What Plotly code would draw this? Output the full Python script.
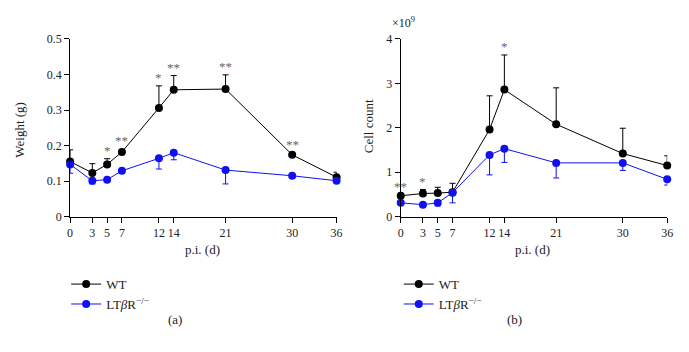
import plotly.graph_objects as go

# ---------------- data ----------------
days = [0, 3, 5, 7, 12, 14, 21, 30, 36]
tick_vals_x = [0, 3, 5, 7, 12, 14, 21, 30, 36]

# (a) spleen weight (g)
wt_weight = [0.155, 0.123, 0.147, 0.182, 0.306, 0.357, 0.359, 0.174, 0.111]
wt_weight_err = [0.033, 0.026, 0.016, 0.007, 0.062, 0.040, 0.040, 0.004, 0.014]
lt_weight = [0.147, 0.101, 0.104, 0.129, 0.164, 0.180, 0.131, 0.115, 0.101]
lt_weight_err = [0.025, 0.009, 0.004, 0.007, 0.030, 0.020, 0.039, 0.003, 0.005]
sig_weight = ["", "", "*", "**", "*", "**", "**", "**", ""]

# (b) cell count (x 10^9)
wt_cells = [0.47, 0.52, 0.53, 0.55, 1.96, 2.86, 2.08, 1.42, 1.15]
wt_cells_err = [0.02, 0.09, 0.13, 0.20, 0.76, 0.78, 0.82, 0.57, 0.22]
lt_cells = [0.31, 0.27, 0.31, 0.54, 1.39, 1.53, 1.21, 1.21, 0.84]
lt_cells_err = [0.03, 0.03, 0.07, 0.23, 0.45, 0.31, 0.34, 0.17, 0.13]
sig_cells = ["**", "*", "", "", "", "*", "", "", ""]

weight_ticks = [0, 0.1, 0.2, 0.3, 0.4, 0.5]
weight_ticklabels = ["0", "0.1", "0.2", "0.3", "0.4", "0.5"]
cell_ticks = [0, 1, 2, 3, 4]

series_names = ["WT", "LT<i>β</i>R<sup>−/−</sup>"]

# ---------------- style ----------------
W, H = 689, 352
FONT = "Liberation Serif"
BLACK = "#000000"
BLUE = "#1010f0"
TXT = "#222222"
GRAY = "#666666"


def px_x(p):
    return p / W


def px_y(p):
    return 1 - p / H


fig = go.Figure()


def add_panel(xa, ya, legend, wt, wt_err, lt, lt_err, sig):
    n = len(days)
    fig.add_trace(go.Scatter(
        x=days, y=wt, mode="lines+markers", name=series_names[0],
        xaxis=xa, yaxis=ya, legend=legend, cliponaxis=False,
        line=dict(color=BLACK, width=1),
        marker=dict(color=BLACK, size=8),
        error_y=dict(type="data", symmetric=False, array=wt_err,
                     arrayminus=[0] * n, color=BLACK, thickness=1, width=3),
    ))
    fig.add_trace(go.Scatter(
        x=days, y=lt, mode="lines+markers", name=series_names[1],
        xaxis=xa, yaxis=ya, legend=legend, cliponaxis=False,
        line=dict(color=BLUE, width=1),
        marker=dict(color=BLUE, size=8),
        error_y=dict(type="data", symmetric=False, array=[0] * n,
                     arrayminus=lt_err, color=BLUE, thickness=1, width=3),
    ))
    for d, v, e, s in zip(days, wt, wt_err, sig):
        if s:
            fig.add_annotation(x=d, y=v + e, xref=xa, yref=ya, text=s,
                               showarrow=False, yanchor="bottom", yshift=-1,
                               font=dict(family=FONT, size=13, color=GRAY))


add_panel("x", "y", "legend", wt_weight, wt_weight_err, lt_weight, lt_weight_err, sig_weight)
add_panel("x2", "y2", "legend2", wt_cells, wt_cells_err, lt_cells, lt_cells_err, sig_cells)

ydom = [px_y(218.3), px_y(33.3)]
axis_common = dict(showline=True, linecolor=BLACK, linewidth=1, ticks="outside",
                   ticklen=5, tickcolor=BLACK, tickwidth=1, showgrid=False,
                   zeroline=False, tickangle=0,
                   tickfont=dict(family=FONT, size=12, color=TXT))

fig.update_layout(
    width=W, height=H, margin=dict(l=0, r=0, t=0, b=0),
    paper_bgcolor="white", plot_bgcolor="white",
    font=dict(family=FONT, size=12, color=TXT),
    xaxis=dict(domain=[px_x(68), px_x(338)], range=[0, 36], tickvals=tick_vals_x,
               anchor="y", **axis_common),
    yaxis=dict(domain=ydom, range=[0, 0.5], tickvals=weight_ticks,
               ticktext=weight_ticklabels, anchor="x", **axis_common),
    xaxis2=dict(domain=[px_x(403), px_x(673)], range=[0, 36], tickvals=tick_vals_x,
                anchor="y2", **axis_common),
    yaxis2=dict(domain=ydom, range=[0, 4], tickvals=cell_ticks, anchor="x2",
                **axis_common),
    legend=dict(x=px_x(64), y=px_y(273), xanchor="left", yanchor="top",
                font=dict(family=FONT, size=13, color=TXT), bgcolor="rgba(0,0,0,0)",
                tracegroupgap=0),
    legend2=dict(x=px_x(401), y=px_y(273), xanchor="left", yanchor="top",
                 font=dict(family=FONT, size=13, color=TXT), bgcolor="rgba(0,0,0,0)",
                 tracegroupgap=0),
    showlegend=True,
)

# axis titles and panel labels
texts = [
    dict(text="Weight (g)", x=px_x(17), y=px_y(128), textangle=-90, size=13),
    dict(text="Cell count", x=px_x(370), y=px_y(124), textangle=-90, size=13),
    dict(text="p.i. (d)", x=px_x(202), y=px_y(253), textangle=0, size=13),
    dict(text="p.i. (d)", x=px_x(537), y=px_y(253), textangle=0, size=13),
    dict(text="(a)", x=px_x(174), y=px_y(325), textangle=0, size=13),
    dict(text="(b)", x=px_x(518), y=px_y(325), textangle=0, size=13),
]
for t in texts:
    fig.add_annotation(text=t["text"], x=t["x"], y=t["y"], xref="paper", yref="paper",
                       showarrow=False, textangle=t["textangle"],
                       xanchor="center", yanchor="middle",
                       font=dict(family=FONT, size=t["size"], color=TXT))

fig.add_annotation(text="×10<sup>9</sup>", x=px_x(392), y=px_y(16), xref="paper",
                   yref="paper", showarrow=False, xanchor="left", yanchor="middle",
                   font=dict(family=FONT, size=12, color=TXT))

fig.write_html("out.html", config={"displayModeBar": False},
               post_script="document.body.style.margin='0';document.body.style.overflow='hidden';")
